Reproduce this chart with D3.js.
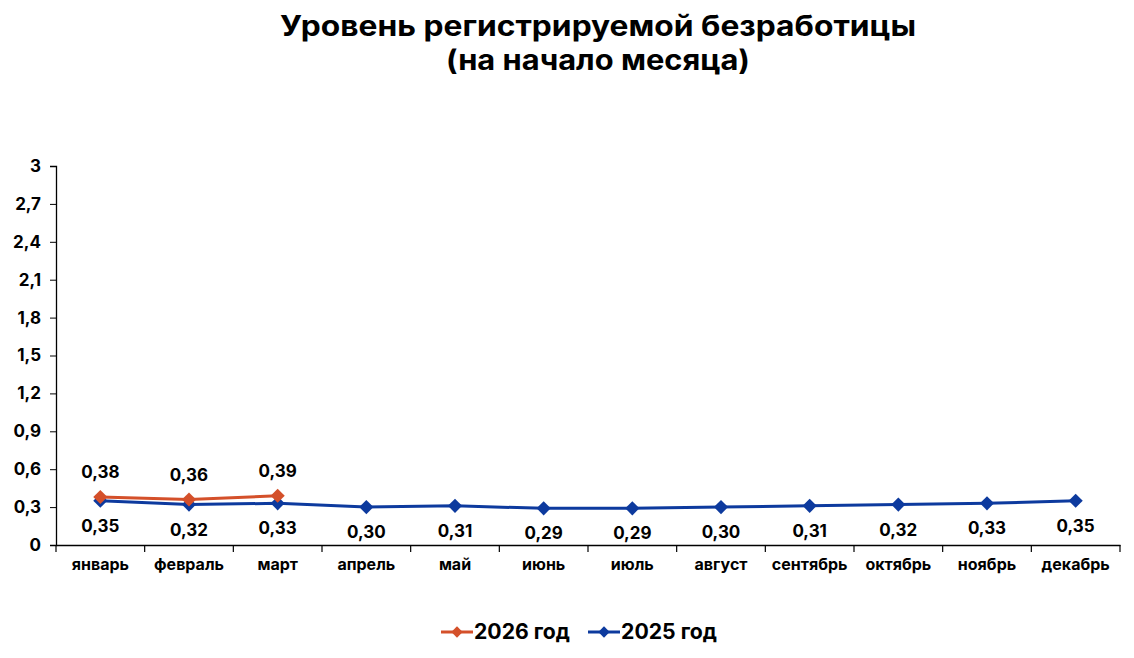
<!DOCTYPE html>
<html><head><meta charset="utf-8">
<script src="https://cdn.jsdelivr.net/npm/d3@7"></script>
<style>body{margin:0;background:#fff;font-family:Inter,"Open Sans",sans-serif;}</style>
</head><body>
<svg id="c" width="1134" height="658"></svg>
<script>
const months = ["январь","февраль","март","апрель","май","июнь","июль","август","сентябрь","октябрь","ноябрь","декабрь"];
const values2026 = [0.38,0.36,0.39];
const values2025 = [0.35,0.32,0.33,0.30,0.31,0.29,0.29,0.30,0.31,0.32,0.33,0.35];
const yTicks = [0,0.3,0.6,0.9,1.2,1.5,1.8,2.1,2.4,2.7,3];
const seriesNames = ["2026 год","2025 год"];
const colors = {"2026 год":"#d4502a","2025 год":"#0d3a9e"};

const svg = d3.select("#c");
const fmt = v => d3.format(".2f")(v).replace(".",",");
const fmtTick = v => String(+v.toFixed(1)).replace(".",",");

const x = d3.scaleBand().domain(months).range([56,1120]);
const y = d3.scaleLinear().domain([0,3]).range([545,166]);

svg.append("text").attr("x",598).attr("y",36).attr("text-anchor","middle")
  .attr("font-size",28).attr("font-weight",700).attr("textLength",636).attr("lengthAdjust","spacingAndGlyphs")
  .text("Уровень регистрируемой безработицы");
svg.append("text").attr("x",598).attr("y",70).attr("text-anchor","middle")
  .attr("font-size",28).attr("font-weight",700).attr("textLength",304).attr("lengthAdjust","spacingAndGlyphs")
  .text("(на начало месяца)");

const ya = svg.append("g").attr("transform","translate(56,0)")
  .call(d3.axisLeft(y).tickValues(yTicks).tickFormat(fmtTick).tickSize(6).tickPadding(9));
ya.select(".domain").attr("stroke","#000").attr("stroke-width",1.3);
ya.selectAll("line").attr("stroke","#000");
ya.selectAll("text").attr("font-size",17).attr("font-weight",700).attr("fill","#000").attr("font-family","Inter,'Open Sans',sans-serif");

const xa = svg.append("g").attr("transform","translate(0,545)")
  .call(d3.axisBottom(x).tickSize(0).tickPadding(14));
xa.select(".domain").attr("stroke","#000").attr("stroke-width",1.3);
xa.selectAll("text").attr("font-size",16).attr("font-weight",700).attr("fill","#000").attr("font-family","Inter,'Open Sans',sans-serif");
const bounds = months.map(m=>x(m)).concat([1120]);
svg.append("g").selectAll("line").data(bounds).join("line")
  .attr("x1",d=>d).attr("x2",d=>d).attr("y1",545).attr("y2",552)
  .attr("stroke","#000").attr("stroke-width",1.2);

const cx = m => x(m)+x.bandwidth()/2;
const line = d3.line().x((d,i)=>cx(months[i])).y(d=>y(d));
const diamond = d3.symbol().type(d3.symbolSquare).size(100);

function drawSeries(vals,color,above){
  const g = svg.append("g");
  g.append("path").datum(vals).attr("d",line).attr("fill","none").attr("stroke",color).attr("stroke-width",3);
  g.selectAll("path.m").data(vals).join("path").attr("class","m")
    .attr("d",diamond).attr("fill",color)
    .attr("transform",(d,i)=>`translate(${cx(months[i])},${y(d)}) rotate(45)`);
  g.selectAll("text").data(vals).join("text")
    .attr("x",(d,i)=>cx(months[i]))
    .attr("y",d=>above ? y(d)-19 : y(d)+31)
    .attr("text-anchor","middle").attr("font-size",17).attr("font-weight",700).attr("fill","#000")
    .text(fmt);
}
drawSeries(values2025,colors["2025 год"],false);
drawSeries(values2026,colors["2026 год"],true);

const leg = svg.append("g");
const legX = [441,588];
seriesNames.forEach((s,i)=>{
  const g = leg.append("g").attr("transform",`translate(${legX[i]},632)`);
  g.append("line").attr("x1",0).attr("x2",32).attr("stroke",colors[s]).attr("stroke-width",3);
  g.append("path").attr("d",d3.symbol().type(d3.symbolSquare).size(64)).attr("fill",colors[s]).attr("transform","translate(16,0) rotate(45)");
  g.append("text").attr("x",33).attr("y",7).attr("font-size",21).attr("font-weight",700).attr("fill","#000")
    .attr("textLength",96).attr("lengthAdjust","spacingAndGlyphs").text(s);
});
</script>
</body></html>
